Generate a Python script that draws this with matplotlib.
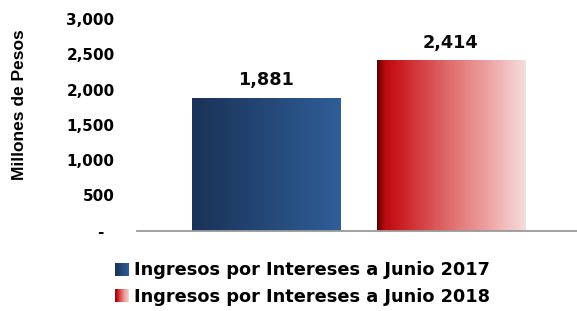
import numpy as np
import matplotlib
matplotlib.use("Agg")
import matplotlib.pyplot as plt
from matplotlib.colors import LinearSegmentedColormap
from matplotlib.patches import Rectangle
from matplotlib.legend_handler import HandlerPatch

categories = ["Ingresos por Intereses a Junio 2017", "Ingresos por Intereses a Junio 2018"]
values = [1881, 2414]
yticks = [0, 500, 1000, 1500, 2000, 2500, 3000]
ytick_labels = ["-  ", "500", "1,000", "1,500", "2,000", "2,500", "3,000"]
ylabel = "Millones de Pesos"

blue_cmap = LinearSegmentedColormap.from_list(
    "blue", [(0, "#1a3256"), (1, "#2f5e98")])
red_cmap = LinearSegmentedColormap.from_list(
    "red", [(0, "#5a0000"), (0.05, "#b80a10"), (0.12, "#c8161b"),
            (0.45, "#de6464"), (0.75, "#eea3a3"), (1, "#f6dcdc")])
cmaps = [blue_cmap, red_cmap]

fig = plt.figure(figsize=(5.77, 3.11), dpi=100)
ax = fig.add_axes([0.237, 0.2553, 0.763, 0.6836])

x = np.arange(len(values))
width = 0.8
bars = ax.bar(x, values, width=width, color="none", edgecolor="none", zorder=2)
grad = np.linspace(0, 1, 256).reshape(1, -1)
for b, cm in zip(bars, cmaps):
    x0, y0 = b.get_x(), b.get_y()
    w, h = b.get_width(), b.get_height()
    im = ax.imshow(grad, cmap=cm, aspect="auto", extent=[x0, x0 + w, y0, y0 + h],
                   zorder=2, interpolation="bilinear")
    im.set_clip_path(b)

for xi, v in zip(x, values):
    ax.text(xi, v + 120, f"{v:,}", ha="center", va="bottom",
            fontsize=12.7, fontweight="bold", family="DejaVu Sans", color="#0a0a0a")

ax.set_xlim(-0.697, 1.681)
ax.set_ylim(-15, 3000)
ax.set_yticks(yticks)
ax.set_yticklabels(ytick_labels, fontsize=11, fontweight="bold", family="DejaVu Sans")
ax.tick_params(axis="y", length=0, pad=16)
ax.set_xticks([])
for s in ["top", "right", "left"]:
    ax.spines[s].set_visible(False)
ax.spines["bottom"].set_position(("data", 0))
ax.spines["bottom"].set_color("#9a9a9a")
ax.spines["bottom"].set_linewidth(1.3)
ax.spines["bottom"].set_zorder(3)

fig.text(0.033, 0.665, ylabel, rotation=90, ha="center", va="center",
         fontsize=12.5, fontweight="bold", family="Liberation Sans")


class GradHandler(HandlerPatch):
    def __init__(self, cmap):
        super().__init__()
        self.cmap = cmap

    def create_artists(self, legend, orig_handle, xdescent, ydescent, width, height, fontsize, trans):
        arts = []
        n = 12
        for i in range(n):
            r = Rectangle((-xdescent + width * i / n, -ydescent), width / n + 0.3, height,
                          facecolor=self.cmap((i + 0.5) / n), edgecolor="none", transform=trans)
            arts.append(r)
        return arts


h1 = Rectangle((0, 0), 1, 1)
h2 = Rectangle((0, 0), 1, 1)
leg = fig.legend([h1, h2], categories, loc="upper left", bbox_to_anchor=(0.2, 0.16),
                 frameon=False, handler_map={h1: GradHandler(blue_cmap), h2: GradHandler(red_cmap)},
                 prop={"family": "DejaVu Sans", "weight": "bold", "size": 12.8},
                 handlelength=0.75, handleheight=0.75, handletextpad=0.3, labelspacing=0.5,
                 borderaxespad=0, borderpad=0)

fig.savefig("out.png", dpi=100)
